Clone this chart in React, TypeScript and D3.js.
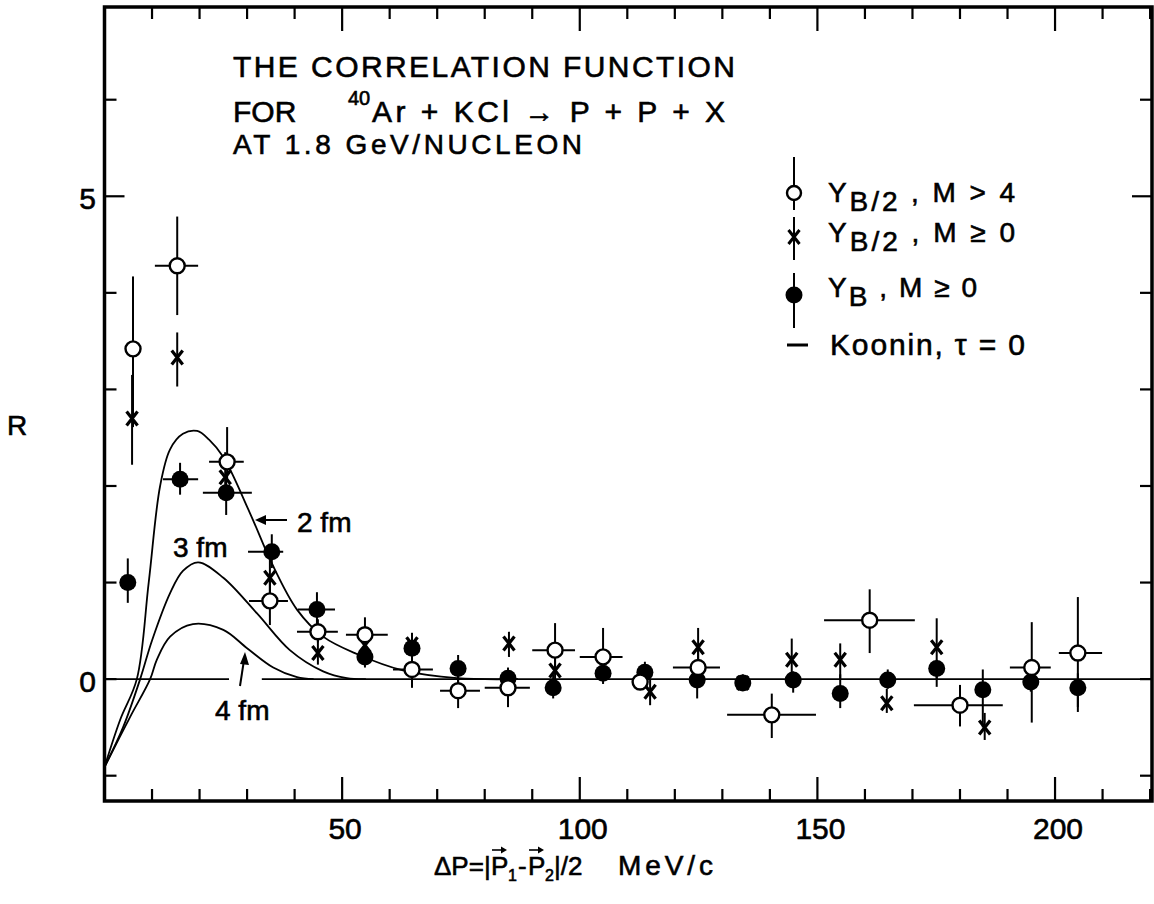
import React from 'react';
import * as d3 from 'd3';

const W = 1154;
const H = 904;

// Tick values
const xTicks = d3.range(10, 221, 10);
const xTickLabels = [50, 100, 150, 200];
const yTicks = [-1, 0, 1, 2, 3, 4, 5, 6];
const yTickLabels = [0, 5];

// Series: [ΔP, R, R_low, R_high, ΔP_low, ΔP_high]  (null = no bar)
type Pt = [number, number, number | null, number | null, number | null, number | null];

// Y_B/2, M > 4 (open circles)
const openCircles: Pt[] = [
  [6.0, 3.42, 2.61, 4.17, null, null],
  [15.3, 4.28, 3.77, 4.79, 10.6, 19.7],
  [25.8, 2.25, 2.06, 2.61, 22.0, 29.3],
  [34.8, 0.81, 0.56, 1.05, 30.4, 38.6],
  [44.9, 0.49, 0.38, 0.62, 40.5, 49.1],
  [54.8, 0.46, 0.30, 0.64, 50.8, 59.6],
  [64.7, 0.10, -0.09, 0.30, 60.7, 69.1],
  [74.4, -0.12, -0.30, 0.05, 70.6, 79.0],
  [84.9, -0.09, -0.29, 0.10, 80.0, 89.5],
  [94.8, 0.30, 0.05, 0.58, 90.0, 99.0],
  [104.9, 0.23, 0.0, 0.53, 100.0, 109.0],
  [112.7, -0.03, null, null, null, null],
  [124.9, 0.12, 0.0, 0.35, 119.6, 129.5],
  [140.4, -0.37, -0.61, -0.15, 131.0, 149.7],
  [161.0, 0.61, 0.27, 0.93, 151.4, 170.5],
  [180.0, -0.27, -0.49, -0.06, 170.3, 189.0],
  [195.1, 0.12, -0.45, 0.59, 190.5, 199.1],
  [204.8, 0.27, -0.34, 0.85, 200.8, 209.9],
];

// Y_B/2, M >= 0 (crosses)
const crosses: Pt[] = [
  [5.8, 2.70, 2.22, 3.15, null, null],
  [15.3, 3.33, 3.03, 3.59, null, null],
  [25.4, 2.09, 1.85, 2.35, null, null],
  [34.8, 1.05, 0.85, 1.25, null, null],
  [44.9, 0.27, 0.15, 0.45, null, null],
  [54.8, 0.35, 0.2, 0.5, null, null],
  [64.7, 0.36, 0.25, 0.48, null, null],
  [85.1, 0.37, 0.23, 0.49, null, null],
  [94.8, 0.09, -0.05, 0.3, null, null],
  [114.8, -0.13, -0.27, 0.0, null, null],
  [124.9, 0.33, 0.1, 0.53, null, null],
  [134.3, -0.04, -0.12, 0.04, null, null],
  [144.6, 0.20, 0.0, 0.42, null, null],
  [154.8, 0.20, 0.0, 0.37, null, null],
  [164.6, -0.25, -0.35, -0.1, null, null],
  [175.1, 0.33, -0.08, 0.63, null, null],
  [185.2, -0.50, -0.63, -0.35, null, null],
];

// Y_B, M >= 0 (filled circles)
const filled: Pt[] = [
  [4.9, 1.00, 0.79, 1.25, null, null],
  [15.9, 2.07, 1.91, 2.24, 12.3, 19.7],
  [25.6, 1.93, 1.70, 2.15, 20.7, 31.0],
  [35.2, 1.32, 1.15, 1.50, 30.2, 37.6],
  [44.7, 0.72, 0.55, 0.90, 40.7, 48.5],
  [54.8, 0.23, 0.12, 0.35, null, null],
  [64.7, 0.32, 0.2, 0.45, null, null],
  [74.4, 0.11, -0.05, 0.25, null, null],
  [84.9, 0.01, -0.1, 0.12, null, null],
  [94.4, -0.09, -0.2, 0.05, null, null],
  [104.9, 0.06, -0.05, 0.16, null, null],
  [113.7, 0.07, -0.04, 0.18, null, null],
  [124.7, -0.01, -0.2, 0.05, null, null],
  [134.3, -0.04, -0.12, 0.05, null, null],
  [144.9, -0.01, -0.14, 0.08, null, null],
  [154.8, -0.15, -0.3, 0.05, null, null],
  [164.8, -0.01, -0.1, 0.1, null, null],
  [175.1, 0.11, 0.0, 0.2, null, null],
  [184.8, -0.11, -0.5, 0.1, null, null],
  [194.9, -0.03, -0.13, 0.07, null, null],
  [204.8, -0.09, -0.29, 0.06, null, null],
];

// Koonin, tau = 0 curves [ΔP, R]
const curve2fm: [number, number][] = [
  [0, -0.91], [3.3, -0.42], [6.8, 0], [9.3, 1.0], [11.7, 2.0], [13.8, 2.38], [16.5, 2.54],
  [19.5, 2.57], [22, 2.48], [25, 2.3], [30.6, 1.72], [35.2, 1.2], [40.5, 0.72], [46, 0.44],
  [53.1, 0.26], [62.8, 0.09], [74.2, 0.01], [87, 0],
];
const curve3fm: [number, number][] = [
  [0, -0.91], [3.9, -0.5], [7.5, 0], [10, 0.4], [13.8, 0.89], [16.5, 1.12], [19.7, 1.21],
  [25, 1.05], [32.1, 0.68], [39, 0.30], [46, 0.08], [51, 0.01], [55, 0],
];
const curve4fm: [number, number][] = [
  [0, -0.91], [5.4, -0.39], [9.6, 0], [11, 0.2], [13.8, 0.44], [18.6, 0.57], [25, 0.51],
  [30, 0.32], [35.5, 0.12], [40.5, 0.02], [44, 0],
];

// zero reference line segments (gap for label)
const zeroLine: [number, number][] = [[0, 26.2], [33.1, 220.4]];

const FONT = "'Liberation Sans', Arial, sans-serif";

function Vec({ x1, x2, yy }: { x1: number; x2: number; yy: number }) {
  return (
    <g>
      <line x1={x1} x2={x2 - 4} y1={yy} y2={yy} stroke="#000" strokeWidth={1.6} />
      <path d={`M${x2},${yy} L${x2 - 6},${yy - 3.5} L${x2 - 6},${yy + 3.5} Z`} fill="#000" />
    </g>
  );
}

export default function App() {
  const x = d3.scaleLinear().domain([0, 220.4]).range([104.5, 1152]);
  const y = d3.scaleLinear().domain([-1.262, 6.96]).range([801, 7]);
  const line = d3
    .line<[number, number]>()
    .x((d) => x(d[0]))
    .y((d) => y(d[1]))
    .curve(d3.curveCatmullRom.alpha(0.5));

  const x0 = x(0);
  const x1 = x(220.4);
  const yTop = y(6.96);
  const yBot = y(-1.262);

  const bars = (pts: Pt[]) =>
    pts.map((p, i) => (
      <g key={i}>
        {p[2] !== null && p[3] !== null && (
          <line x1={x(p[0])} x2={x(p[0])} y1={y(p[2] as number)} y2={y(p[3] as number)} stroke="#000" strokeWidth={2} />
        )}
        {p[4] !== null && p[5] !== null && (
          <line x1={x(p[4] as number)} x2={x(p[5] as number)} y1={y(p[1])} y2={y(p[1])} stroke="#000" strokeWidth={2} />
        )}
      </g>
    ));

  const crossPath = 'M-5.5,-7 L5.5,7 M5.5,-7 L-5.5,7';

  return (
    <svg width={W} height={H} style={{ position: 'absolute', left: 0, top: 0, background: '#fff' }} fontFamily={FONT}>
      <style>{'text { stroke: #000; stroke-width: 0.6px; }'}</style>
      <rect x={0} y={0} width={W} height={H} fill="#fff" />

      {/* zero line */}
      {zeroLine.map((s, i) => (
        <line key={i} x1={x(s[0])} x2={x(s[1])} y1={y(0)} y2={y(0)} stroke="#000" strokeWidth={1.6} />
      ))}

      {/* theory curves */}
      {[curve2fm, curve3fm, curve4fm].map((c, i) => (
        <path key={i} d={line(c) || ''} fill="none" stroke="#000" strokeWidth={1.8} />
      ))}

      {/* error bars */}
      {bars(openCircles)}
      {bars(crosses)}
      {bars(filled)}

      {/* markers */}
      {filled.map((p, i) => (
        <circle key={'f' + i} cx={x(p[0])} cy={y(p[1])} r={8.5} fill="#000" />
      ))}
      {crosses.map((p, i) => (
        <path key={'c' + i} d={crossPath} transform={`translate(${x(p[0])},${y(p[1])})`} stroke="#000" strokeWidth={3.2} fill="none" />
      ))}
      {openCircles.map((p, i) => (
        <circle key={'o' + i} cx={x(p[0])} cy={y(p[1])} r={7.5} fill="#fff" stroke="#000" strokeWidth={2.4} />
      ))}

      {/* frame */}
      <rect x={x0} y={yTop} width={x1 - x0} height={yBot - yTop} fill="none" stroke="#000" strokeWidth={3.5} />

      {/* x ticks */}
      {xTicks.map((t) => {
        const len = t % 50 === 0 ? 24 : 12;
        return (
          <g key={'xt' + t}>
            <line x1={x(t)} x2={x(t)} y1={yBot} y2={yBot - len} stroke="#000" strokeWidth={2.2} />
            <line x1={x(t)} x2={x(t)} y1={yTop} y2={yTop + len} stroke="#000" strokeWidth={2.2} />
          </g>
        );
      })}
      {/* y ticks */}
      {yTicks.map((t) => {
        const len = t === 5 ? 20 : 12;
        return (
          <g key={'yt' + t}>
            <line x1={x0} x2={x0 + len} y1={y(t)} y2={y(t)} stroke="#000" strokeWidth={2.2} />
            <line x1={x1} x2={x1 - len} y1={y(t)} y2={y(t)} stroke="#000" strokeWidth={2.2} />
          </g>
        );
      })}

      {/* tick labels */}
      {xTickLabels.map((t) => (
        <text key={'xl' + t} x={x(t) + 3} y={839} fontSize={30} textAnchor="middle">
          {t}
        </text>
      ))}
      {yTickLabels.map((t) => (
        <text key={'yl' + t} x={96} y={y(t) + 13} fontSize={30} textAnchor="end">
          {t}
        </text>
      ))}

      {/* axis titles */}
      <text x={17} y={435} fontSize={28} textAnchor="middle">R</text>
      <g fontSize={26}>
        <text x={434} y={875}>ΔP=|</text>
        <text x={491} y={875}>P</text>
        <text x={508} y={881} fontSize={16}>1</text>
        <text x={518} y={875}>-</text>
        <text x={528} y={875}>P</text>
        <text x={545} y={881} fontSize={16}>2</text>
        <text x={554} y={875}>|/2</text>
        <text x={618} y={875} fontSize={28} textLength={95} lengthAdjust="spacing">MeV/c</text>
      </g>
      <Vec x1={492} x2={507} yy={850} />
      <Vec x1={529} x2={544} yy={850} />

      {/* title */}
      <text x={233} y={77} fontSize={30} textLength={502} lengthAdjust="spacing">THE CORRELATION FUNCTION</text>
      <text x={233} y={122} fontSize={30}>FOR</text>
      <text x={348} y={105} fontSize={20}>40</text>
      <text x={372} y={122} fontSize={30} textLength={353} lengthAdjust="spacing">Ar + KCl → P + P + X</text>
      <text x={233} y={154} fontSize={28} textLength={349} lengthAdjust="spacing">AT 1.8 GeV/NUCLEON</text>

      {/* annotations */}
      <text x={297} y={532} fontSize={28}>2 fm</text>
      <line x1={287} x2={262} y1={520} y2={520} stroke="#000" strokeWidth={2} />
      <path d="M255,520 L266,515 L266,525 Z" fill="#000" />
      <text x={173} y={557} fontSize={28}>3 fm</text>
      <text x={215} y={720} fontSize={28}>4 fm</text>
      <line x1={240} x2={244} y1={686} y2={660} stroke="#000" strokeWidth={2} />
      <path d="M245,652 L240,664 L249,665 Z" fill="#000" />

      {/* legend */}
      <g>
        <line x1={794} x2={794} y1={157} y2={210} stroke="#000" strokeWidth={2} />
        <circle cx={794} cy={193} r={7} fill="#fff" stroke="#000" strokeWidth={2.4} />
        <text x={828} y={202} fontSize={28} textLength={187} lengthAdjust="spacing">
          Y<tspan dy={9}>B/2</tspan>
          <tspan dy={-9}> , M &gt; 4</tspan>
        </text>

        <line x1={794} x2={794} y1={217} y2={260} stroke="#000" strokeWidth={2} />
        <path d={crossPath} transform="translate(794,237)" stroke="#000" strokeWidth={3} fill="none" />
        <text x={828} y={242} fontSize={28} textLength={187} lengthAdjust="spacing">
          Y<tspan dy={9}>B/2</tspan>
          <tspan dy={-9}> , M ≥ 0</tspan>
        </text>

        <line x1={794} x2={794} y1={273} y2={328} stroke="#000" strokeWidth={2} />
        <circle cx={794} cy={295} r={8.5} fill="#000" />
        <text x={828} y={297} fontSize={28} textLength={149} lengthAdjust="spacing">
          Y<tspan dy={9}>B</tspan>
          <tspan dy={-9}> , M ≥ 0</tspan>
        </text>

        <line x1={787} x2={808} y1={345} y2={345} stroke="#000" strokeWidth={3} />
        <text x={830} y={355} fontSize={30} textLength={195} lengthAdjust="spacing">Koonin, τ = 0</text>
      </g>
    </svg>
  );
}
